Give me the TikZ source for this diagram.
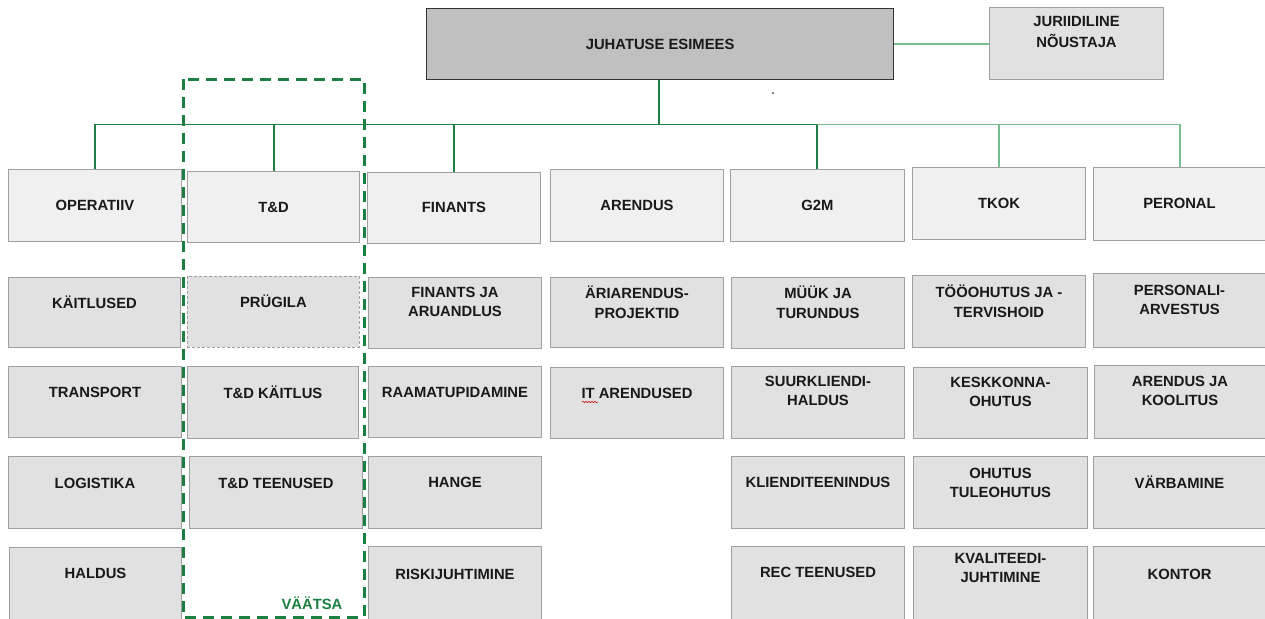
\documentclass[tikz,border=0pt]{standalone}
\usepackage{fontspec}
\setmainfont{Liberation Sans}
\usetikzlibrary{decorations.pathmorphing}
\definecolor{linedark}{RGB}{30,128,70}
\definecolor{linelight}{RGB}{120,190,145}
\definecolor{dashgreen}{RGB}{25,128,65}
\definecolor{hdrfill}{RGB}{240,240,240}
\definecolor{subfill}{RGB}{225,225,225}
\definecolor{boxborder}{RGB}{160,160,160}
\definecolor{topfill}{RGB}{192,192,192}
\tikzset{
  x=1pt, y=-1pt,
  hdr/.style={draw=boxborder, fill=hdrfill, line width=1pt, inner sep=0pt},
  sub/.style={draw=boxborder, fill=subfill, line width=1pt, inner sep=0pt},
  subdash/.style={draw=boxborder, fill=subfill, line width=0.8pt, dash pattern=on 3pt off 2pt, inner sep=0pt},
  topbox/.style={draw=black!80, fill=topfill, line width=1.2pt, inner sep=0pt},
  lbl/.style={font=\fontsize{14.8}{19.5}\selectfont\bfseries, align=center, text=black!90, inner sep=0pt},
  conn/.style={color=linedark, line width=1.3pt},
  connl/.style={color=linelight, line width=1.3pt},
}
% #1 style, #2 name, #3 x1, #4 y1, #5 x2, #6 y2, #7 text offset, #8 text
\newcommand\orgbox[8]{%
  \node[#1, anchor=north west, minimum width={(#5-#3)*1pt}, minimum height={(#6-#4)*1pt}] (#2) at (#3,#4) {};
  \node[lbl] (#2t) at ([yshift=-#7pt]#2.north) {#8};}
\begin{document}
\begin{tikzpicture}
\useasboundingbox (0,0) rectangle (1265,618);
% top
\orgbox{topbox}{top}{426}{8}{893}{79}{36}{JUHATUSE ESIMEES}
\orgbox{sub}{jur}{989}{7}{1163}{79}{25}{JURIIDILINE\\[2pt]NÕUSTAJA}
\draw[connl] (top.east) -- (jur.west |- top.east);
\fill[black] (773,93) circle (0.8);
% headers
\orgbox{hdr}{op}{8}{169}{181}{241}{36}{OPERATIIV}
\orgbox{hdr}{td}{187}{171}{359}{242}{36}{T\&D}
\orgbox{hdr}{fin}{367}{172}{540}{243}{35}{FINANTS}
\orgbox{hdr}{are}{550}{169}{723}{241}{36}{ARENDUS}
\orgbox{hdr}{gtm}{730}{169}{904}{241}{36}{G2M}
\orgbox{hdr}{tkok}{912}{167}{1085}{239}{36}{TKOK}
\orgbox{hdr}{per}{1093}{167}{1265}{240}{36}{PERONAL}
% connector end points (shifted onto pixel centres)
\coordinate (bus) at (659,124.5);
\coordinate (tdn) at ([xshift=0.5pt]td.north);
\coordinate (gtmn) at ([xshift=-0.5pt]gtm.north);
\coordinate (pern) at ([xshift=0.5pt]per.north);
\draw[conn] (top.south -| bus) -- (bus);
\draw[conn] (bus) -- (op.north |- bus) -- (op.north);
\draw[conn] (tdn |- bus) -- (tdn);
\draw[conn] (fin.north |- bus) -- (fin.north);
\draw[conn] (bus) -- (gtmn |- bus) -- (gtmn);
\draw[connl] (gtmn |- bus) -- (pern |- bus) -- (pern);
\draw[connl] (tkok.north |- bus) -- (tkok.north);
% column 1
\orgbox{sub}{c1a}{8}{277}{180}{347}{25}{KÄITLUSED}
\orgbox{sub}{c1b}{8}{366}{181}{437}{26}{TRANSPORT}
\orgbox{sub}{c1c}{8}{456}{181}{528}{27}{LOGISTIKA}
\orgbox{sub}{c1d}{9}{547}{181}{620}{26}{HALDUS}
% column 2
\orgbox{subdash}{c2a}{187}{276}{359}{347}{25}{PRÜGILA}
\orgbox{sub}{c2b}{187}{366}{358}{438}{26}{T\&D KÄITLUS}
\orgbox{sub}{c2c}{189}{456}{362}{528}{27}{T\&D TEENUSED}
% column 3
\orgbox{sub}{c3a}{368}{277}{541}{348}{25}{FINANTS JA\\ARUANDLUS}
\orgbox{sub}{c3b}{368}{366}{541}{437}{26}{RAAMATUPIDAMINE}
\orgbox{sub}{c3c}{368}{456}{541}{528}{26}{HANGE}
\orgbox{sub}{c3d}{368}{546}{541}{620}{28}{RISKIJUHTIMINE}
% column 4
\orgbox{sub}{c4a}{550}{277}{723}{347}{25}{ÄRIARENDUS-\\PROJEKTID}
\orgbox{sub}{c4b}{550}{367}{723}{438}{26}{IT ARENDUSED}
\draw[red!80!black, line width=0.5pt, decorate, decoration={snake, amplitude=0.7pt, segment length=3pt}] (582,402) -- (598,402);
% column 5
\orgbox{sub}{c5a}{731}{277}{904}{348}{25}{MÜÜK JA\\TURUNDUS}
\orgbox{sub}{c5b}{731}{366}{904}{438}{25}{SUURKLIENDI-\\HALDUS}
\orgbox{sub}{c5c}{731}{456}{904}{528}{26}{KLIENDITEENINDUS}
\orgbox{sub}{c5d}{731}{546}{904}{620}{26}{REC TEENUSED}
% column 6
\orgbox{sub}{c6a}{912}{275}{1085}{347}{26}{TÖÖOHUTUS JA -\\TERVISHOID}
\orgbox{sub}{c6b}{913}{367}{1087}{438}{25}{KESKKONNA-\\OHUTUS}
\orgbox{sub}{c6c}{913}{456}{1087}{528}{27}{OHUTUS\\TULEOHUTUS}
\orgbox{sub}{c6d}{913}{546}{1087}{620}{22}{KVALITEEDI-\\JUHTIMINE}
% column 7
\orgbox{sub}{c7a}{1093}{273}{1265}{347}{27}{PERSONALI-\\ARVESTUS}
\orgbox{sub}{c7b}{1094}{365}{1265}{438}{26}{ARENDUS JA\\KOOLITUS}
\orgbox{sub}{c7c}{1093}{456}{1265}{528}{26}{VÄRBAMINE}
\orgbox{sub}{c7d}{1093}{546}{1265}{620}{28}{KONTOR}
% Vaatsa dashed group
\draw[dashgreen, line width=3pt, dash pattern=on 11pt off 7pt] (183,79) rectangle (364,617);
\node[lbl, text=dashgreen, anchor=center] (vaatsa) at (312,603) {VÄÄTSA};
\end{tikzpicture}
\end{document}
